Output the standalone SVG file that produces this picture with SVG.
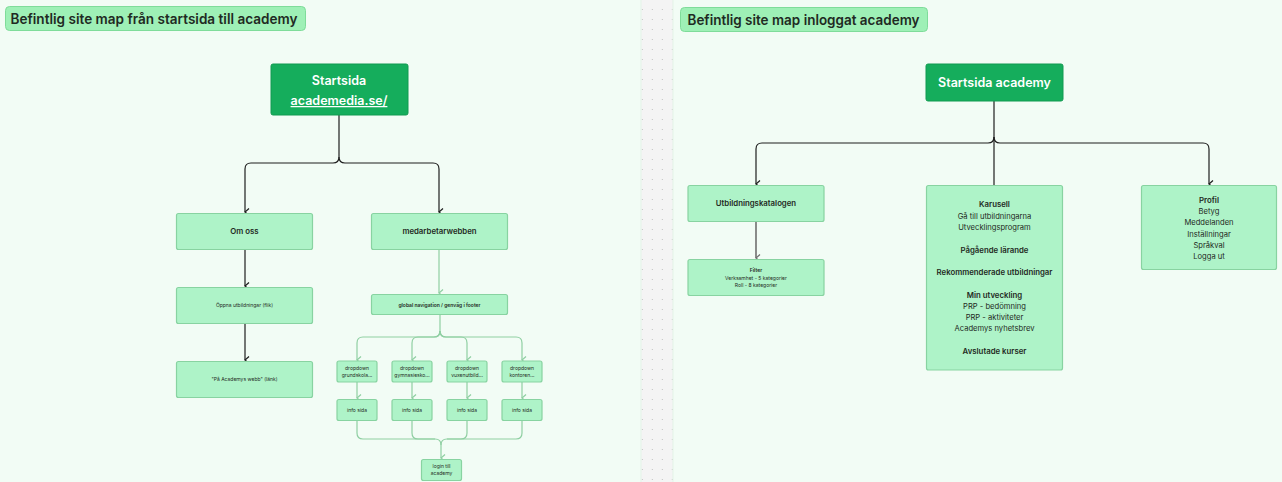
<svg xmlns="http://www.w3.org/2000/svg" width="1282" height="482" viewBox="0 0 1282 482">
<defs>
<style>
text{font-family:Inter,"Noto Sans","Liberation Sans",sans-serif;fill:#1f2a23;text-anchor:middle}
.title{fill:#9ef0b6;stroke:#7fdc9a;stroke-width:1}
.tt{font-size:14px;font-weight:600;text-anchor:start}
.dark{fill:#15ad5c;stroke:#119a50;stroke-width:1}
.dt{fill:#fff;font-weight:600;font-size:12.5px}
.box{fill:#aef3c8;stroke:#88d3a1;stroke-width:1.2}
.b8{font-size:7.8px;font-weight:600}
.r8{font-size:7.6px}
.s5{font-size:5px}
.s5b{font-size:5px;font-weight:600}
.blk{fill:none;stroke:#1e1e1e;stroke-width:1.2}
.grn{fill:none;stroke:#8fcfa2;stroke-width:1.2}
.gry{fill:none;stroke:#6f6f6f;stroke-width:1.6}
</style>
<marker id="ab" viewBox="0 0 10 10" refX="5" refY="9" markerWidth="10" markerHeight="10" markerUnits="userSpaceOnUse" orient="auto-start-reverse">
<polyline points="1.5,5 5,9 8.5,5" fill="none" stroke="#1e1e1e" stroke-width="1.2"/>
</marker>
<marker id="ag" viewBox="0 0 10 10" refX="5" refY="9" markerWidth="10" markerHeight="10" markerUnits="userSpaceOnUse" orient="auto-start-reverse">
<polyline points="1.5,5 5,9 8.5,5" fill="none" stroke="#8fcfa2" stroke-width="1.2"/>
</marker>
<marker id="ay" viewBox="0 0 10 10" refX="5" refY="9" markerWidth="10" markerHeight="10" markerUnits="userSpaceOnUse" orient="auto-start-reverse">
<polyline points="1.5,5 5,9 8.5,5" fill="none" stroke="#6f6f6f" stroke-width="1.2"/>
</marker>
<pattern id="dots" x="0" y="0" width="10" height="10" patternUnits="userSpaceOnUse">
<rect x="1.8" y="9.3" width="1" height="1.2" fill="#a9a9a9"/>
</pattern>
</defs>
<rect x="0" y="0" width="1282" height="482" fill="#f2fcf5"/>
<g id="divider">
<rect x="641" y="0" width="32" height="482" fill="#f4f4f4"/>
<rect x="640" y="0" width="34" height="482" fill="url(#dots)"/>
<line x1="641" y1="0" x2="641" y2="482" stroke="#e3f3e7" stroke-width="1"/>
<line x1="673" y1="0" x2="673" y2="482" stroke="#e3f3e7" stroke-width="1"/>
</g>

<g id="connectors">
<path class="blk" d="M339,115 V157 Q339,163 333,163 H251 Q245,163 245,169 V212" marker-end="url(#ab)"/>
<path class="blk" d="M339,157 Q339,163 345,163 H433 Q439,163 439,169 V212" marker-end="url(#ab)"/>
<path class="blk" d="M245,249 V286" marker-end="url(#ab)"/>
<path class="blk" d="M245,323 V360" marker-end="url(#ab)"/>
<path class="grn" d="M439,249 V293" marker-end="url(#ag)"/>
<path class="grn" d="M440,315 V331 Q440,337 434,337 H363 Q357,337 357,343 V360" marker-end="url(#ag)"/>
<path class="grn" d="M440,331 Q440,337 434,337 H418 Q412,337 412,343 V360" marker-end="url(#ag)"/>
<path class="grn" d="M440,331 Q440,337 446,337 H461 Q467,337 467,343 V360" marker-end="url(#ag)"/>
<path class="grn" d="M440,331 Q440,337 446,337 H516 Q522,337 522,343 V360" marker-end="url(#ag)"/>
<path class="grn" d="M357,382 V398" marker-end="url(#ag)"/>
<path class="grn" d="M412,382 V398" marker-end="url(#ag)"/>
<path class="grn" d="M467,382 V398" marker-end="url(#ag)"/>
<path class="grn" d="M522,382 V398" marker-end="url(#ag)"/>
<path class="grn" d="M357,421 V433 Q357,439 363,439 H435 Q441,439 441,445 V458" marker-end="url(#ag)"/>
<path class="grn" d="M412,421 V433 Q412,439 418,439 H435"/>
<path class="grn" d="M467,421 V433 Q467,439 461,439 H447 Q441,439 441,445"/>
<path class="grn" d="M522,421 V433 Q522,439 516,439 H447"/>
<path class="blk" d="M994,101 V185"/>
<path class="blk" d="M994,137 Q994,143 988,143 H762 Q756,143 756,149 V184" marker-end="url(#ab)" stroke="#444"/>
<path class="blk" d="M994,137 Q994,143 1000,143 H1203 Q1209,143 1209,149 V184" marker-end="url(#ab)" stroke="#444"/>
<path class="gry" d="M756,222 V258" marker-end="url(#ay)"/>
</g>

<g id="title-left">
<rect class="title" x="5.5" y="6.5" width="300" height="24" rx="4"/>
<text class="tt" x="10.5" y="23.5" textLength="287" lengthAdjust="spacingAndGlyphs">Befintlig site map från startsida till academy</text>
</g>
<g id="title-right">
<rect class="title" x="680.5" y="7.5" width="247" height="24" rx="4"/>
<text class="tt" x="687.5" y="24.5" textLength="232" lengthAdjust="spacingAndGlyphs">Befintlig site map inloggat academy</text>
</g>

<g id="startsida">
<rect class="dark" x="271" y="64" width="137" height="51" rx="2"/>
<text class="dt" x="339" y="85">Startsida</text>
<text class="dt" x="339" y="105" text-decoration="underline">academedia.se/</text>
</g>
<g id="om-oss">
<rect class="box" x="176.5" y="213.5" width="136" height="36" rx="2"/>
<text class="b8" x="244.5" y="234">Om oss</text>
</g>
<g id="oppna">
<rect class="box" x="176.5" y="287.5" width="136" height="36" rx="2"/>
<text class="s5" x="244.5" y="307">Öppna utbildningar (flik)</text>
</g>
<g id="pa-academys">
<rect class="box" x="176.5" y="361.5" width="136" height="36" rx="2"/>
<text class="s5" x="244.5" y="381">"På Academys webb" (länk)</text>
</g>
<g id="medarbetarwebben">
<rect class="box" x="371.5" y="213.5" width="136" height="36" rx="2"/>
<text class="b8" x="439.5" y="234">medarbetarwebben</text>
</g>
<g id="global-nav">
<rect class="box" x="371.5" y="294.5" width="136" height="20" rx="2"/>
<text class="s5b" x="439.5" y="306.5">global navigation / genväg i footer</text>
</g>
<g id="dd1">
<rect class="box" x="337" y="361" width="40" height="21" rx="2"/>
<text class="s5" x="357" y="369.5">dropdown</text>
<text class="s5" x="357" y="377">grundskola...</text>
</g>
<g id="dd2">
<rect class="box" x="392" y="361" width="40" height="21" rx="2"/>
<text class="s5" x="412" y="369.5">dropdown</text>
<text class="s5" x="412" y="377">gymnasiesko...</text>
</g>
<g id="dd3">
<rect class="box" x="447" y="361" width="40" height="21" rx="2"/>
<text class="s5" x="467" y="369.5">dropdown</text>
<text class="s5" x="467" y="377">vuxenutbild...</text>
</g>
<g id="dd4">
<rect class="box" x="502" y="361" width="40" height="21" rx="2"/>
<text class="s5" x="522" y="369.5">dropdown</text>
<text class="s5" x="522" y="377">kontoren...</text>
</g>
<g id="info1">
<rect class="box" x="337" y="399.5" width="40" height="21" rx="2"/>
<text class="s5" x="357" y="411.5">info sida</text>
</g>
<g id="info2">
<rect class="box" x="392" y="399.5" width="40" height="21" rx="2"/>
<text class="s5" x="412" y="411.5">info sida</text>
</g>
<g id="info3">
<rect class="box" x="447" y="399.5" width="40" height="21" rx="2"/>
<text class="s5" x="467" y="411.5">info sida</text>
</g>
<g id="info4">
<rect class="box" x="502" y="399.5" width="40" height="21" rx="2"/>
<text class="s5" x="522" y="411.5">info sida</text>
</g>
<g id="login">
<rect class="box" x="421.5" y="459.5" width="40" height="21" rx="2"/>
<text class="s5" x="441.5" y="467.5">login till</text>
<text class="s5" x="441.5" y="475">academy</text>
</g>

<g id="startsida-academy">
<rect class="dark" x="926" y="64" width="137" height="37" rx="2"/>
<text class="dt" x="994.5" y="87">Startsida academy</text>
</g>
<g id="utbildningskatalogen">
<rect class="box" x="688" y="185.5" width="136" height="36" rx="2"/>
<text class="b8" x="756" y="206">Utbildningskatalogen</text>
</g>
<g id="filter">
<rect class="box" x="688" y="259.5" width="136" height="36" rx="2"/>
<text class="s5b" x="756" y="272">Filter</text>
<text class="s5" x="756" y="279.5">Verksamhet - 5 kategorier</text>
<text class="s5" x="756" y="287">Roll - 8 kategorier</text>
</g>
<g id="karusell">
<rect class="box" x="926.5" y="185.5" width="136" height="184.5" rx="2"/>
<text class="b8" x="994.5" y="207">Karusell</text>
<text class="r8" x="994.5" y="218.5">Gå till utbildningarna</text>
<text class="r8" x="994.5" y="229.8">Utvecklingsprogram</text>
<text class="b8" x="994.5" y="252.8">Pågående lärande</text>
<text class="b8" x="994.5" y="275">Rekommenderade utbildningar</text>
<text class="b8" x="994.5" y="297.5">Min utveckling</text>
<text class="r8" x="994.5" y="308.8">PRP - bedömning</text>
<text class="r8" x="994.5" y="320">PRP - aktiviteter</text>
<text class="r8" x="994.5" y="331.2">Academys nyhetsbrev</text>
<text class="b8" x="994.5" y="354">Avslutade kurser</text>
</g>
<g id="profil">
<rect class="box" x="1141.5" y="185.5" width="135" height="84" rx="2"/>
<text class="b8" x="1209" y="202.8">Profil</text>
<text class="r8" x="1209" y="214">Betyg</text>
<text class="r8" x="1209" y="225.4">Meddelanden</text>
<text class="r8" x="1209" y="236.7">Inställningar</text>
<text class="r8" x="1209" y="248">Språkval</text>
<text class="r8" x="1209" y="259.3">Logga ut</text>
</g>
</svg>
